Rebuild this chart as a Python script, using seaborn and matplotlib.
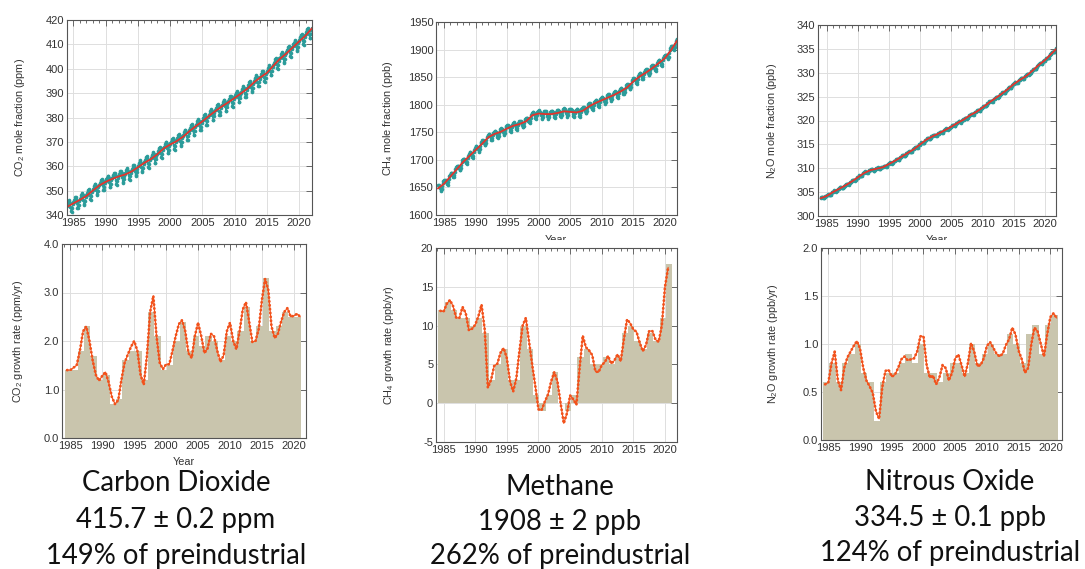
import numpy as np
import pandas as pd
import seaborn as sns
import matplotlib
matplotlib.use("Agg")
import matplotlib.pyplot as plt
from matplotlib.ticker import MultipleLocator, FormatStrFormatter
from matplotlib.patches import Rectangle

# ---------------- data ----------------
trend_years = list(range(1984, 2023))
co2_trend = [343.3, 344.8, 346.2, 347.8, 350.0, 352.1, 353.6, 354.8, 355.8, 356.6,
             357.8, 359.6, 361.4, 362.9, 364.9, 367.3, 368.9, 370.3, 372.1, 374.4,
             376.5, 378.4, 380.6, 382.6, 384.5, 386.2, 388.0, 389.9, 391.9, 394.4,
             396.5, 398.3, 401.2, 404.0, 406.2, 408.7, 411.2, 413.6, 416.6]
ch4_trend = [1648, 1657, 1670, 1683, 1696, 1707, 1718, 1729, 1741, 1747,
             1751, 1757, 1762, 1765, 1770, 1781, 1784, 1783, 1783, 1785,
             1788, 1787, 1786, 1789, 1797, 1803, 1808, 1813, 1818, 1824,
             1831, 1842, 1851, 1858, 1866, 1875, 1884, 1899, 1917]
n2o_trend = [303.7, 304.2, 305.0, 305.7, 306.4, 307.2, 308.1, 309.0, 309.6, 309.9,
             310.2, 310.9, 311.6, 312.4, 313.2, 314.0, 315.0, 316.0, 316.7, 317.3,
             318.0, 318.7, 319.5, 320.2, 321.1, 321.8, 322.7, 323.7, 324.6, 325.5,
             326.5, 327.6, 328.5, 329.3, 330.4, 331.6, 332.6, 333.9, 335.2]

# monthly seasonal anomalies (Jan..Dec)
co2_season = [0.5, 1.0, 1.5, 2.0, 2.1, 1.1, -0.8, -2.7, -3.1, -1.7, -0.3, 0.4]
ch4_season = [6, 5, 3, 1, -3, -7, -9, -6, -1, 3, 5, 3]
n2o_season = [0.1, 0.2, 0.2, 0.1, 0.0, -0.1, -0.3, -0.3, -0.1, 0.1, 0.1, 0.0]

bar_years = list(range(1985, 2022))
co2_bar = [1.4, 1.4, 1.8, 2.3, 1.7, 1.2, 1.3, 0.7, 0.8, 1.6, 1.8, 1.8, 1.2, 2.6, 2.1,
           1.4, 1.5, 2.0, 2.4, 1.8, 2.1, 1.9, 2.1, 2.0, 1.6, 2.1, 2.0, 2.2, 2.7, 2.0,
           2.3, 3.3, 2.2, 2.3, 2.6, 2.5, 2.5]
ch4_bar = [12, 13, 12, 11, 11, 10, 11, 9, 3, 5, 7, 3, 3, 10, 7, 1, -1, 1, 4, 0,
           -1, 1, 6, 7, 5, 5, 6, 5, 6, 9, 10, 8, 7, 9, 8, 11, 18]
n2o_bar = [0.6, 0.8, 0.6, 0.8, 0.9, 1.0, 0.7, 0.6, 0.2, 0.6, 0.7, 0.7, 0.8, 0.9, 0.8,
           1.0, 0.7, 0.7, 0.6, 0.7, 0.8, 0.8, 0.7, 1.0, 0.8, 0.9, 1.0, 0.9, 0.9, 1.1,
           1.0, 0.8, 1.1, 1.2, 0.9, 1.2, 1.3]

co2_curve_t = np.arange(1984.5, 2021.01, 0.5)
co2_curve = [1.40, 1.40, 1.45, 1.50, 1.80, 2.20, 2.30, 2.00, 1.60, 1.30,
             1.18, 1.28, 1.36, 1.15, 0.85, 0.70, 0.78, 1.20, 1.55, 1.72,
             1.88, 2.00, 1.80, 1.30, 1.10, 1.70, 2.60, 2.93, 2.10, 1.55,
             1.42, 1.52, 1.52, 1.80, 2.10, 2.35, 2.43, 2.20, 1.75, 1.65,
             2.10, 2.38, 2.10, 1.75, 1.85, 2.15, 2.10, 1.80, 1.57, 1.70,
             2.20, 2.38, 2.00, 1.83, 2.20, 2.65, 2.80, 2.40, 1.98, 2.00,
             2.25, 2.85, 3.28, 3.05, 2.30, 2.06, 2.15, 2.40, 2.60, 2.68,
             2.50, 2.52, 2.56, 2.50]
ch4_curve_t = np.arange(1984.5, 2020.51, 0.5)
ch4_curve = [11.9, 11.8, 12.8, 13.3, 12.5, 11.0, 11.0, 12.4, 11.6, 9.4,
             9.6, 10.1, 11.2, 12.7, 9.5, 2.0, 3.0, 4.8, 5.1, 6.5,
             7.1, 5.8, 2.8, 1.5, 3.2, 6.8, 10.0, 11.0, 8.0, 5.0,
             2.2, -0.8, -0.9, 0.2, 1.1, 2.8, 4.0, 2.8, 0.0, -2.6,
             -1.3, 1.0, 0.5, -0.2, 4.5, 8.7, 7.2, 6.8, 6.2, 4.1,
             4.0, 4.9, 5.3, 6.1, 5.1, 5.5, 6.3, 5.4, 8.2, 10.8,
             10.3, 9.5, 9.2, 7.8, 6.7, 7.5, 9.3, 9.3, 8.2, 7.9,
             10.0, 15.0, 17.5]
n2o_curve_t = np.arange(1984.5, 2021.01, 0.5)
n2o_curve = [0.58, 0.60, 0.80, 0.92, 0.62, 0.52, 0.75, 0.86, 0.92, 0.98,
             1.03, 0.95, 0.75, 0.62, 0.56, 0.49, 0.30, 0.22, 0.55, 0.72,
             0.73, 0.66, 0.68, 0.75, 0.84, 0.87, 0.83, 0.84, 0.85, 0.92,
             1.08, 1.08, 0.78, 0.65, 0.67, 0.58, 0.65, 0.78, 0.75, 0.62,
             0.70, 0.85, 0.89, 0.78, 0.66, 0.80, 1.01, 0.92, 0.77, 0.78,
             0.85, 0.98, 1.02, 0.96, 0.90, 0.87, 0.90, 0.99, 1.05, 1.17,
             1.10, 0.93, 0.84, 0.70, 0.75, 1.00, 1.17, 1.13, 1.00, 0.87,
             1.10, 1.28, 1.32, 1.27]

xticks = [1985, 1990, 1995, 2000, 2005, 2010, 2015, 2020]

titles = [["Carbon Dioxide", "415.7 \u00b1 0.2 ppm", "149% of preindustrial"],
          ["Methane", "1908 \u00b1 2 ppb", "262% of preindustrial"],
          ["Nitrous Oxide", "334.5 \u00b1 0.1 ppb", "124% of preindustrial"]]

# ---------------- style ----------------
sns.set_theme(style="white")
plt.rcParams["font.family"] = ["Liberation Sans", "DejaVu Sans"]
plt.rcParams["mathtext.default"] = "regular"

W, H = 1085, 569
fig = plt.figure(figsize=(W / 100, H / 100), dpi=100)
fig.patch.set_facecolor("white")

def add_ax(l, r, t, b):
    return fig.add_axes([l / W, 1 - b / H, (r - l) / W, (b - t) / H])

TEAL = "#2b9c9a"
RED = "#e3342c"
ORANGE = "#f2521c"
BARC = "#c9c5ad"
GRID = "#dedede"
SPINE = "#555555"
LABC = "#333333"

def style(ax, xlim, ylim, ymaj, fmt):
    ax.set_xlim(*xlim)
    ax.set_ylim(*ylim)
    ax.set_xticks(xticks)
    ax.xaxis.set_minor_locator(MultipleLocator(1))
    ax.yaxis.set_major_locator(MultipleLocator(ymaj))
    ax.yaxis.set_major_formatter(FormatStrFormatter(fmt))
    ax.grid(True, which="major", color=GRID, linewidth=0.7)
    ax.set_axisbelow(True)
    ax.tick_params(which="both", direction="in", top=True, right=True,
                   width=0.6, color=SPINE, labelsize=8, labelcolor=LABC, pad=2)
    ax.tick_params(which="major", length=4)
    ax.tick_params(which="minor", length=2)
    for s in ax.spines.values():
        s.set_color(SPINE)
        s.set_linewidth(0.8)

def monthly(trend, season):
    t, v = [], []
    for i in range(len(trend) - 1):
        for m in range(12):
            t.append(trend_years[i] + (m + 0.5) / 12)
            v.append(trend[i] + (trend[i + 1] - trend[i]) * (m + 0.5) / 12 + season[m])
    return pd.DataFrame({"t": t, "v": v})

def top_panel(box, trend, season, xlim, ylim, ymaj, ylabel, labx):
    ax = add_ax(*box)
    df = monthly(trend, season)
    sns.lineplot(data=df, x="t", y="v", ax=ax, color=TEAL, linewidth=0.8,
                 marker="o", markersize=2.6, markeredgewidth=0)
    sns.lineplot(x=trend_years, y=trend, ax=ax, color=RED, linewidth=1.3)
    style(ax, xlim, ylim, ymaj, "%d")
    ax.set_xlabel("")
    ax.set_ylabel(ylabel, fontsize=7.8, color=LABC)
    ax.yaxis.set_label_coords(labx, 0.5)
    return ax

def bottom_panel(box, bars, ct, cv, xlim, ylim, ymaj, fmt, ylabel, labx):
    ax = add_ax(*box)
    ax.bar(np.array(bar_years) - 0.35, bars, width=1.0, color=BARC,
           linewidth=0, zorder=2)
    sns.lineplot(x=ct, y=cv, ax=ax, color=ORANGE, linewidth=0.8, zorder=3)
    sns.lineplot(x=ct, y=cv, ax=ax, color=ORANGE, linewidth=2.0, zorder=4,
                 linestyle=(0, (0.1, 1.3)), dash_capstyle="round")
    style(ax, xlim, ylim, ymaj, fmt)
    ax.set_xlabel("")
    ax.set_ylabel(ylabel, fontsize=7.8, color=LABC)
    ax.yaxis.set_label_coords(labx, 0.5)
    return ax

# top row
top_panel((67, 312, 20, 215), co2_trend, co2_season, (1984.0, 2022.0), (340, 420), 10,
          r"CO$_2$ mole fraction (ppm)", -0.165)
top_panel((436, 677, 22, 215), ch4_trend, ch4_season, (1983.7, 2021.95), (1600, 1950), 50,
          r"CH$_4$ mole fraction (ppb)", -0.17)
top_panel((818, 1056, 25, 216), n2o_trend, n2o_season, (1983.6, 2021.8), (300, 340), 5,
          r"N$_2$O mole fraction (ppb)", -0.165)

# cut-off "Year" labels of the upper panels
for xc in [556, 937]:
    fig.text(xc / W, 1 - 235 / H, "Year", ha="center", va="top", fontsize=7.8, color=LABC)
    fig.patches.append(Rectangle(((xc - 60) / W, 1 - 247 / H), 120 / W, 7 / H,
                                 transform=fig.transFigure, facecolor="white",
                                 edgecolor="none", zorder=5))

# bottom row
ax1 = bottom_panel((62, 306, 244, 438), co2_bar, co2_curve_t, co2_curve, (1983.7, 2021.9),
                   (0, 4), 1.0, "%.1f", r"CO$_2$ growth rate (ppm/yr)", -0.15)
ax1.set_xlabel("Year", fontsize=7.8, color=LABC)
ax1.xaxis.set_label_coords(0.5, -0.1)
bottom_panel((436, 677, 248, 442), ch4_bar, ch4_curve_t, ch4_curve, (1983.8, 2021.9),
             (-5, 20), 5, "%d", r"CH$_4$ growth rate (ppb/yr)", -0.165)
bottom_panel((821, 1062, 248, 440), n2o_bar, n2o_curve_t, n2o_curve, (1983.84, 2021.84),
             (0, 2), 0.5, "%.1f", r"N$_2$O growth rate (ppb/yr)", -0.17)

# big captions
centers = [176, 560, 950]
ys = [[483, 520, 556], [487, 522, 556], [482, 518, 553]]
for xc, lines, yy in zip(centers, titles, ys):
    for txt, y in zip(lines, yy):
        fig.text(xc / W, 1 - y / H, txt, ha="center", va="center", fontsize=19.8,
                 family=["Lato", "DejaVu Sans"], color="#111111")

fig.savefig("out.png", dpi=100, facecolor="white")
